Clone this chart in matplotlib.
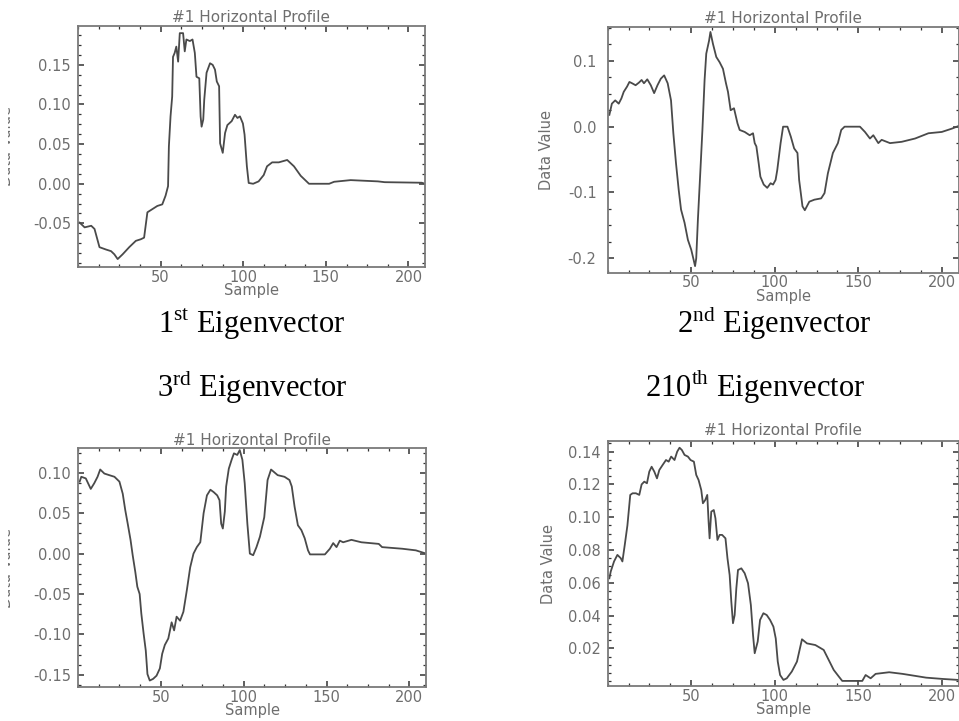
import matplotlib
matplotlib.use("Agg")
import matplotlib.pyplot as plt
from matplotlib.ticker import AutoMinorLocator, FormatStrFormatter, MultipleLocator
from matplotlib.transforms import Bbox, TransformedBbox

# Values (sample index -> data value).
ev1_x = [1, 4, 8, 10, 13, 17, 20, 22, 24, 27, 31, 35, 38, 40, 42, 45, 48, 51, 53, 54.5,
         55, 56, 57, 57.5, 58.5, 59.5, 60.6, 61.6, 63.6, 64.6, 65.6, 67.7, 69.3, 70.7, 71.7,
         73.4, 74.2, 74.8, 75.8, 76.4, 77.8, 79.9, 81.5, 82.9, 84, 85.4, 86, 87.6, 89, 90.4,
         93, 95, 96.5, 98, 99.8, 100.8, 102.2, 103.3, 106, 109.3, 112.4, 114.4, 117.5, 121.5,
         126.6, 130.7, 134.8, 139.8, 152, 155, 165, 181.5, 185.6, 208, 210]
ev1_y = [-0.049, -0.055, -0.053, -0.057, -0.080, -0.083, -0.085, -0.089, -0.095, -0.089,
         -0.080, -0.072, -0.070, -0.068, -0.036, -0.032, -0.028, -0.026, -0.015, -0.003,
         0.047, 0.085, 0.110, 0.160, 0.165, 0.173, 0.154, 0.190, 0.190, 0.167,
         0.182, 0.180, 0.182, 0.165, 0.135, 0.133, 0.085, 0.072, 0.081, 0.106,
         0.140, 0.152, 0.150, 0.144, 0.129, 0.123, 0.051, 0.039, 0.064, 0.074,
         0.079, 0.087, 0.083, 0.085, 0.076, 0.062, 0.022, 0.001, 0.000, 0.003,
         0.011, 0.022, 0.027, 0.027, 0.030, 0.022, 0.010, 0.000, 0.000, 0.0025,
         0.0046, 0.003, 0.002, 0.0013, 0.000]

ev2_x = [1, 2.5, 4.5, 6.6, 8.2, 9.6, 11.6, 13, 14.6, 16.7, 18.7, 20.3, 21.7, 23.7, 25.8,
         27.8, 29.8, 31.8, 33.8, 35.9, 37.9, 39.3, 40.9, 42.5, 43.9, 46, 48, 50, 51.4, 52.3,
         53, 54, 55.5, 56.7, 58, 59, 60.7, 61.5, 63, 65, 67, 69, 70.8, 72, 73.6, 75.6, 77.7,
         79, 82, 85, 87, 88, 89, 90.4, 91.4, 93.4, 95.5, 97.5, 99, 100.5, 101.5, 103.5, 105,
         107.6, 109.6, 111.6, 113.6, 114.6, 116.6, 118, 120.7, 123.7, 127.8, 129.8, 131.8,
         134.8, 137.8, 139.8, 141.8, 151, 154, 157, 159, 162, 164, 169, 176, 184, 192, 200,
         206, 210]
ev2_y = [0.018, 0.035, 0.040, 0.035, 0.043, 0.053, 0.061, 0.068, 0.066, 0.063,
         0.067, 0.071, 0.066, 0.072, 0.063, 0.051, 0.063, 0.073, 0.078, 0.066,
         0.040, -0.010, -0.056, -0.096, -0.126, -0.146, -0.172, -0.187, -0.202, -0.212,
         -0.200, -0.141, -0.066, -0.005, 0.071, 0.111, 0.131, 0.144, 0.126, 0.106,
         0.098, 0.088, 0.066, 0.053, 0.025, 0.028, 0.005, -0.005, -0.008, -0.013,
         -0.010, -0.025, -0.030, -0.056, -0.076, -0.088, -0.093, -0.086, -0.088, -0.081,
         -0.066, -0.025, 0.000, 0.000, -0.015, -0.033, -0.040, -0.081, -0.121, -0.127,
         -0.114, -0.111, -0.109, -0.101, -0.071, -0.040, -0.025, -0.005, 0.000, 0.000,
         -0.008, -0.018, -0.013, -0.025, -0.020, -0.025, -0.023, -0.018, -0.010, -0.008,
         -0.003, 0.001]

ev3_x = [1, 2, 4.7, 7.7, 9.8, 11.8, 13.4, 15.9, 18.9, 22, 25, 27, 28.5, 30, 31.7, 33, 34.6,
         35.8, 37.2, 38.2, 39.6, 40.9, 41.9, 43.3, 45.3, 47.4, 49.4, 50.8, 52.4, 54.5, 56.5,
         58, 59.5, 61.6, 63.6, 65.7, 67.7, 69.7, 71.7, 73.8, 75.8, 77.8, 79.9, 81.9, 84, 85.4,
         86.4, 87.4, 88.6, 89.4, 91, 92.7, 94.1, 96.1, 97.6, 99.2, 100.6, 102.2, 103.7, 105.7,
         107.7, 109.8, 112.4, 114.4, 116.5, 120.5, 124.6, 127.6, 129, 130.7, 132.7, 134.8,
         136.8, 138.8, 140, 149, 152, 154, 156, 158, 160, 165, 171, 181.5, 183.5, 195.7,
         203.9, 210]
ev3_y = [0.089, 0.095, 0.093, 0.080, 0.087, 0.095, 0.104, 0.099, 0.097, 0.095,
         0.089, 0.074, 0.054, 0.037, 0.017, -0.002, -0.023, -0.041, -0.050, -0.074,
         -0.099, -0.120, -0.149, -0.157, -0.155, -0.151, -0.142, -0.124, -0.113, -0.105,
         -0.085, -0.095, -0.078, -0.083, -0.072, -0.045, -0.017, 0.000, 0.008, 0.014,
         0.050, 0.072, 0.079, 0.076, 0.072, 0.066, 0.037, 0.031, 0.052, 0.083,
         0.105, 0.116, 0.124, 0.122, 0.128, 0.116, 0.087, 0.037, 0.000, -0.002,
         0.008, 0.021, 0.045, 0.091, 0.104, 0.097, 0.095, 0.091, 0.083, 0.058,
         0.035, 0.029, 0.019, 0.004, -0.001, -0.001, 0.006, 0.013, 0.008, 0.016,
         0.014, 0.017, 0.014, 0.012, 0.008, 0.006, 0.004, 0.000]

ev4_x = [1, 1.8, 3.8, 5.8, 7.8, 8.8, 10.2, 11.8, 13.5, 14.9, 16.9, 18.9, 20.3, 21.9, 23.5,
         24.9, 26.3, 27.9, 29.5, 30.9, 32.9, 34.9, 36.5, 38, 40, 41.6, 43, 44.4, 46, 48, 49.6,
         51.6, 53, 54.4, 56, 57, 58.4, 59.6, 60.4, 61, 62, 63.5, 64.5, 65.7, 67, 68.5, 70.5,
         71.7, 73, 74, 75, 76, 77, 78, 80, 82, 84, 85.7, 87, 88, 89.8, 91.2, 93.2, 95.2, 97.2,
         99.2, 100.6, 101.8, 103.2, 105.2, 107.2, 110.2, 113.3, 116.3, 119.3, 124.3, 129.3,
         132.3, 135.3, 138.4, 140.4, 152.4, 154.4, 157.4, 160.4, 168.5, 176.5, 184.5, 190.6,
         200.6, 210]
ev4_y = [0.0627, 0.0668, 0.073, 0.077, 0.075, 0.073, 0.083, 0.095, 0.1136, 0.1146,
         0.1146, 0.1136, 0.120, 0.1217, 0.1207, 0.1278, 0.1308, 0.1278, 0.1237, 0.1288,
         0.1319, 0.1349, 0.1339, 0.137, 0.1349, 0.140, 0.1424, 0.141, 0.138, 0.137,
         0.1349, 0.1339, 0.1258, 0.1227, 0.1166, 0.1085, 0.1105, 0.1136, 0.0973, 0.0871,
         0.1034, 0.1044, 0.0993, 0.0861, 0.0892, 0.0892, 0.0871, 0.0749, 0.0647, 0.0485,
         0.0353, 0.0403, 0.0566, 0.0678, 0.0688, 0.0658, 0.0597, 0.0464, 0.0281, 0.017,
         0.0241, 0.0373, 0.0414, 0.0403, 0.0373, 0.0332, 0.026, 0.0119, 0.0037, 0.0007,
         0.0017, 0.0058, 0.0119, 0.0255, 0.023, 0.022, 0.019, 0.0129, 0.0068, 0.0027,
         0.0001, 0.0001, 0.0037, 0.0017, 0.0044, 0.0054, 0.0044, 0.0031, 0.0021, 0.0013,
         0.0007]

x_ticks = [50, 100, 150, 200]
ev1_yticks = [-0.05, 0.00, 0.05, 0.10, 0.15]
ev2_yticks = [-0.2, -0.1, 0.0, 0.1]
ev3_yticks = [-0.15, -0.10, -0.05, 0.00, 0.05, 0.10]
ev4_yticks = [0.02, 0.04, 0.06, 0.08, 0.10, 0.12, 0.14]

plot_title = "#1 Horizontal Profile"
captions = [("1", "st"), ("2", "nd"), ("3", "rd"), ("210", "th")]

W, H = 959, 721
LINE = "#4a4a4a"
GREY = "#6e6e6e"

plt.rcParams["font.family"] = ["DejaVu Sans"]
plt.rcParams["mathtext.fontset"] = "custom"
plt.rcParams["mathtext.rm"] = "Liberation Serif"

fig = plt.figure(figsize=(W / 100, H / 100), dpi=100)


def px_axes(left, top, right, bottom):
    """Axes from pixel edges (top-left origin)."""
    return fig.add_axes([left / W, 1 - bottom / H, (right - left) / W, (bottom - top) / H])


def draw_panel(ax, x, y, ylim, yticks, yfmt, ypad, title_pad, label_x, clip_label=False):
    ax.plot(x, y, color=LINE, lw=1.3)
    ax.set_xlim(0, 210)
    ax.set_ylim(*ylim)
    ax.set_xticks(x_ticks)
    ax.xaxis.set_minor_locator(MultipleLocator(12.5))
    ax.set_yticks(yticks)
    ax.yaxis.set_major_formatter(FormatStrFormatter(yfmt))
    ax.yaxis.set_minor_locator(AutoMinorLocator(4))
    ax.tick_params(which="both", direction="in", top=True, right=True,
                   color="#333333", labelcolor=GREY, labelsize=10.5)
    ax.tick_params(which="major", length=4, width=1.1)
    ax.tick_params(which="minor", length=2.5, width=0.9)
    ax.tick_params(axis="y", pad=ypad)
    ax.tick_params(axis="x", pad=2)
    for sp in ax.spines.values():
        sp.set_color("#7a7a7a")
        sp.set_linewidth(1.3)
    ax.set_title(plot_title, fontsize=11, color=GREY, pad=title_pad)
    ax.set_xlabel("Sample", fontsize=10.5, color=GREY, labelpad=-1)
    ax.set_ylabel("Data Value", fontsize=10.5, color=GREY)
    ax.yaxis.set_label_coords(label_x, 0.5)
    if clip_label:
        # the original crop only shows a sliver of this label at the left edge
        lab = ax.yaxis.label
        lab.set_clip_box(TransformedBbox(Bbox.from_extents(8 / W, 0, 1, 1), fig.transFigure))
        lab.set_clip_on(True)


ax1 = px_axes(78, 26, 425, 267)
draw_panel(ax1, ev1_x, ev1_y, (-0.105, 0.199), ev1_yticks, "%.2f", 5, 3,
           (14 - 78) / 347, clip_label=True)

ax2 = px_axes(607.7, 26.7, 958.5, 272.7)
draw_panel(ax2, ev2_x, ev2_y, (-0.222, 0.152), ev2_yticks, "%.1f", 8, 3,
           (554 - 607.7) / 350.8)

ax3 = px_axes(78, 448, 426, 687)
draw_panel(ax3, ev3_x, ev3_y, (-0.165, 0.1306), ev3_yticks, "%.2f", 5, 1,
           (14 - 78) / 348, clip_label=True)

ax4 = px_axes(607.7, 441, 958.5, 686)
draw_panel(ax4, ev4_x, ev4_y, (-0.003, 0.1465), ev4_yticks, "%.2f", 5, 4,
           (556 - 607.7) / 350.8)

# Eigenvector captions under / above the plots
caption_pos = [(252, 333), (774, 333), (252, 397), (755, 397)]
for (num, suf), (cx, cy) in zip(captions, caption_pos):
    fig.text(cx / W, 1 - cy / H, num + r"$^{\mathrm{" + suf + r"}}$ Eigenvector",
             family="Liberation Serif", fontsize=22, ha="center", va="baseline",
             color="black")

fig.savefig("out.png", dpi=100, facecolor="white")
